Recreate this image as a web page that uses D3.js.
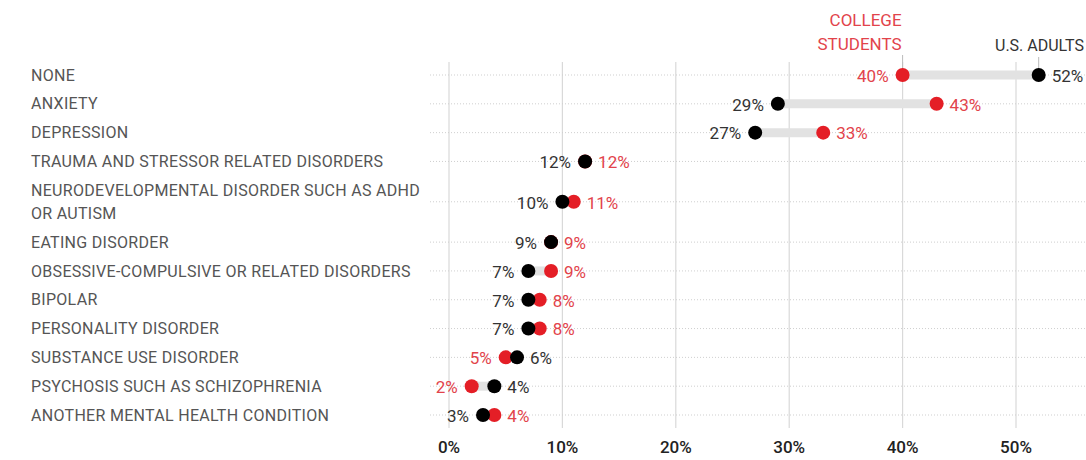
<!DOCTYPE html>
<html>
<head>
<meta charset="utf-8">
<script src="https://cdn.jsdelivr.net/npm/d3@7"></script>
<style>
  html, body { margin: 0; padding: 0; background: #fff; }
  svg { display: block; font-family: Roboto, "Noto Sans", sans-serif; }
</style>
</head>
<body>
<svg id="chart"></svg>
<script>
const CONDITIONS = [
    'NONE',
    'ANXIETY',
    'DEPRESSION',
    'TRAUMA AND STRESSOR RELATED DISORDERS',
    'NEURODEVELOPMENTAL DISORDER SUCH AS ADHD|OR AUTISM',
    'EATING DISORDER',
    'OBSESSIVE-COMPULSIVE OR RELATED DISORDERS',
    'BIPOLAR',
    'PERSONALITY DISORDER',
    'SUBSTANCE USE DISORDER',
    'PSYCHOSIS SUCH AS SCHIZOPHRENIA',
    'ANOTHER MENTAL HEALTH CONDITION'
]
const COLLEGE = [40, 43, 33, 12, 11, 9, 9, 8, 8, 5, 2, 4]
const ADULTS = [52, 29, 27, 12, 10, 9, 7, 7, 7, 6, 4, 3]
const TICKS = [0, 10, 20, 30, 40, 50]
const SERIES_NAMES = ['COLLEGE|STUDENTS', 'U.S. ADULTS']

const width = 1086
const height = 460
const RED = '#e41e26'
const RED_TEXT = '#e2434b'
const DARK_TEXT = '#333'

const svg = d3.select('#chart')
    .attr('width', width)
    .attr('height', height)

const x = d3.scaleLinear()
    .domain([0, 50])
    .range([449, 1016])

// rows with a two-line label take more room
const slots = []
let pos = 0
CONDITIONS.forEach((c, i) => {
    const lines = c.split('|').length
    if (i > 0) pos += lines > 1 || CONDITIONS[i - 1].split('|').length > 1 ? 1.4 : 1
    slots.push(pos)
})
const y = d3.scaleLinear()
    .domain([0, 11.8])
    .range([75, 415])

// vertical gridlines
svg.append('g')
    .selectAll('line')
    .data(TICKS)
    .enter().append('line')
    .attr('x1', d => x(d))
    .attr('x2', d => x(d))
    .attr('y1', 62)
    .attr('y2', 428)
    .attr('stroke', '#d9d9d9')
    .attr('stroke-width', 1.2)

// dotted row lines
svg.append('g')
    .selectAll('line')
    .data(slots)
    .enter().append('line')
    .attr('x1', 430)
    .attr('x2', width)
    .attr('y1', d => y(d))
    .attr('y2', d => y(d))
    .attr('stroke', '#cfcfcf')
    .attr('stroke-dasharray', '1,2')

// axis labels
svg.append('g')
    .selectAll('text')
    .data(TICKS)
    .enter().append('text')
    .attr('x', d => x(d))
    .attr('y', 447)
    .attr('dy', '.35em')
    .attr('text-anchor', 'middle')
    .style('font-size', '17px')
    .style('font-weight', 500)
    .style('fill', '#222')
    .text(d => d + '%')

// row labels
const labels = svg.append('g')
    .selectAll('text')
    .data(CONDITIONS)
    .enter().append('text')
    .attr('x', 31)
    .attr('y', (d, i) => y(slots[i]))
    .style('font-size', '16px')
    .style('letter-spacing', '0.3px')
    .style('fill', '#555')

labels.each(function (d) {
    const lines = d.split('|')
    const offset = -(lines.length - 1) * 11.5
    d3.select(this).selectAll('tspan')
        .data(lines)
        .enter().append('tspan')
        .attr('x', 31)
        .attr('dy', (l, j) => j === 0 ? (offset / 16 + 0.35) + 'em' : '23px')
        .text(l => l)
})

const rows = CONDITIONS.map((c, i) => ({
    slot: slots[i], college: COLLEGE[i], adults: ADULTS[i]
}))

// connector bars
svg.append('g')
    .selectAll('line')
    .data(rows)
    .enter().append('line')
    .attr('x1', d => x(d.college))
    .attr('x2', d => x(d.adults))
    .attr('y1', d => y(d.slot))
    .attr('y2', d => y(d.slot))
    .attr('stroke', '#e2e2e2')
    .attr('stroke-width', 9)

// header pointers and names
const firstRow = rows[0]
svg.append('line')
    .attr('x1', x(firstRow.college)).attr('x2', x(firstRow.college))
    .attr('y1', 55).attr('y2', y(firstRow.slot))
    .attr('stroke', '#bbb')
svg.append('line')
    .attr('x1', x(firstRow.adults)).attr('x2', x(firstRow.adults))
    .attr('y1', 57).attr('y2', y(firstRow.slot))
    .attr('stroke', '#bbb')

const collegeName = svg.append('text')
    .attr('text-anchor', 'end')
    .style('font-size', '17px')
    .style('fill', RED_TEXT)
SERIES_NAMES[0].split('|').forEach((l, j) => {
    collegeName.append('tspan')
        .attr('x', x(firstRow.college) - 1)
        .attr('y', 26 + j * 24)
        .text(l)
})
svg.append('text')
    .attr('x', width - 2)
    .attr('y', 51)
    .attr('text-anchor', 'end')
    .style('font-size', '16px')
    .style('fill', DARK_TEXT)
    .text(SERIES_NAMES[1])

// dots: red first, black on top
svg.append('g')
    .selectAll('circle')
    .data(rows)
    .enter().append('circle')
    .attr('cx', d => x(d.college))
    .attr('cy', d => y(d.slot))
    .attr('r', 7)
    .attr('fill', RED)

svg.append('g')
    .selectAll('circle')
    .data(rows)
    .enter().append('circle')
    .attr('cx', d => x(d.adults))
    .attr('cy', d => y(d.slot))
    .attr('r', 7)
    .attr('fill', '#000')

// value labels: lower value on the left, higher on the right
function isLeft(d, key) {
    return key === 'adults' ? d.adults <= d.college : d.college < d.adults
}

function addValueLabels(key, color) {
    svg.append('g')
        .selectAll('text')
        .data(rows)
        .enter().append('text')
        .attr('y', d => y(d.slot))
        .attr('dy', '.4em')
        .attr('x', d => isLeft(d, key) ? x(d[key]) - 14 : x(d[key]) + 13)
        .attr('text-anchor', d => isLeft(d, key) ? 'end' : 'start')
        .style('font-size', '17px')
        .style('fill', color)
        .text(d => d[key] + '%')
}
addValueLabels('college', RED_TEXT)
addValueLabels('adults', DARK_TEXT)
</script>
</body>
</html>
